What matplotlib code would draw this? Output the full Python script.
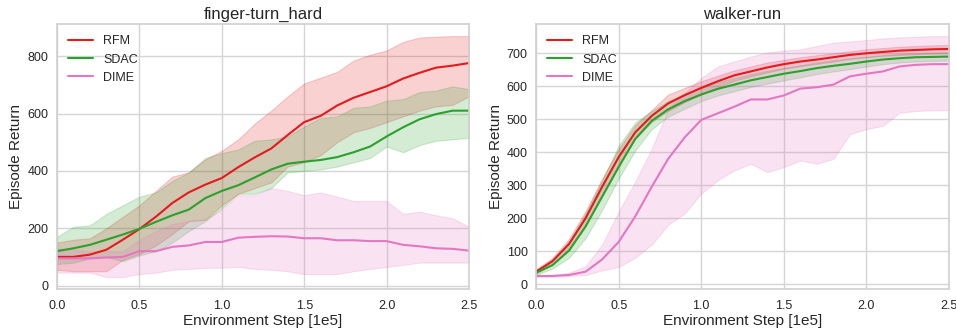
import numpy as np
import matplotlib
matplotlib.use("Agg")
import matplotlib.pyplot as plt
import seaborn as sns

steps = np.round(np.arange(0, 2.51, 0.1), 1)

# finger-turn_hard
ft_rfm_mean = [100, 100, 108, 125, 160, 197, 240, 288, 325, 352, 375, 413, 447, 478, 525, 570, 592, 628, 655, 675, 695, 722, 742, 760, 767, 776]
ft_rfm_hi = [150, 160, 165, 200, 240, 280, 330, 380, 395, 440, 470, 510, 565, 610, 660, 705, 725, 745, 785, 805, 820, 850, 865, 868, 870, 870]
ft_rfm_lo = [55, 50, 50, 50, 90, 110, 140, 180, 225, 230, 280, 320, 340, 360, 415, 430, 455, 500, 535, 550, 570, 590, 610, 625, 630, 660]
ft_sdac_mean = [120, 130, 142, 160, 178, 198, 222, 245, 265, 305, 330, 350, 377, 405, 425, 432, 438, 448, 465, 485, 520, 552, 580, 598, 610, 610]
ft_sdac_hi = [170, 205, 210, 250, 280, 310, 325, 365, 395, 445, 462, 475, 505, 510, 520, 555, 585, 590, 620, 625, 645, 650, 675, 680, 695, 685]
ft_sdac_lo = [75, 80, 95, 100, 85, 105, 120, 150, 190, 225, 270, 320, 320, 340, 395, 400, 405, 415, 430, 445, 485, 465, 490, 505, 510, 515]
ft_dime_mean = [95, 95, 95, 98, 100, 120, 120, 135, 140, 152, 152, 167, 170, 172, 171, 165, 165, 158, 158, 155, 155, 142, 137, 130, 128, 122]
ft_dime_hi = [130, 125, 120, 120, 120, 160, 190, 215, 225, 230, 265, 315, 315, 340, 330, 315, 325, 310, 295, 295, 295, 250, 258, 245, 235, 205]
ft_dime_lo = [45, 45, 45, 30, 30, 40, 45, 55, 58, 62, 62, 65, 58, 55, 50, 40, 40, 40, 50, 58, 65, 72, 80, 80, 80, 80]

# walker-run
wr_rfm_mean = [38, 70, 122, 200, 295, 385, 460, 510, 548, 573, 595, 615, 633, 645, 657, 667, 675, 681, 688, 695, 700, 704, 708, 710, 712, 713]
wr_rfm_hi = [45, 80, 138, 222, 320, 410, 482, 528, 575, 595, 615, 632, 648, 660, 672, 680, 688, 694, 700, 706, 712, 716, 720, 722, 724, 725]
wr_rfm_lo = [32, 60, 108, 180, 272, 362, 440, 492, 525, 552, 575, 597, 617, 630, 642, 653, 661, 668, 675, 683, 688, 692, 695, 697, 699, 700]
wr_sdac_mean = [35, 58, 102, 175, 265, 355, 440, 495, 530, 555, 575, 592, 605, 618, 628, 638, 646, 655, 662, 668, 675, 681, 685, 688, 689, 690]
wr_sdac_hi = [42, 75, 130, 215, 315, 420, 490, 525, 555, 578, 595, 612, 625, 637, 647, 656, 664, 672, 679, 685, 690, 695, 698, 700, 702, 703]
wr_sdac_lo = [28, 48, 80, 140, 225, 320, 405, 470, 508, 532, 555, 572, 585, 598, 608, 618, 627, 637, 645, 652, 660, 667, 672, 675, 677, 678]
wr_dime_mean = [25, 25, 28, 38, 75, 128, 205, 295, 380, 445, 498, 518, 538, 560, 560, 572, 593, 597, 605, 630, 638, 645, 660, 665, 667, 667]
wr_dime_hi = [28, 28, 35, 55, 120, 220, 310, 410, 530, 580, 625, 660, 675, 690, 702, 708, 712, 722, 732, 736, 740, 745, 748, 750, 752, 752]
wr_dime_lo = [22, 22, 25, 28, 42, 52, 80, 120, 180, 215, 275, 315, 345, 365, 340, 355, 375, 365, 380, 455, 470, 480, 520, 525, 527, 528]

titles = ["finger-turn_hard", "walker-run"]
labels = ["RFM", "SDAC", "DIME"]
colors = ["#e41a1c", "#2ca02c", "#e377c2"]
x_ticks = [0.0, 0.5, 1.0, 1.5, 2.0, 2.5]
y_ticks = [[0, 200, 400, 600, 800], [0, 100, 200, 300, 400, 500, 600, 700]]

panels = [
    [(ft_rfm_mean, ft_rfm_lo, ft_rfm_hi), (ft_sdac_mean, ft_sdac_lo, ft_sdac_hi), (ft_dime_mean, ft_dime_lo, ft_dime_hi)],
    [(wr_rfm_mean, wr_rfm_lo, wr_rfm_hi), (wr_sdac_mean, wr_sdac_lo, wr_sdac_hi), (wr_dime_mean, wr_dime_lo, wr_dime_hi)],
]

sns.set_theme(style="whitegrid")
plt.rcParams['font.family'] = ['Liberation Sans', 'DejaVu Sans']

fig = plt.figure(figsize=(9.56, 3.32), dpi=100)
axes = [fig.add_axes([0.0596, 0.1295, 0.431, 0.798]),
        fig.add_axes([0.5607, 0.1295, 0.432, 0.798])]

for ax, title, series, yt in zip(axes, titles, panels, y_ticks):
    for (m, lo, hi), lab, c in zip(series, labels, colors):
        ax.fill_between(steps, lo, hi, color=c, alpha=0.2, linewidth=0.8)
        ax.plot(steps, m, color=c, linewidth=1.5, label=lab)
    ax.set_xlim(0, 2.5)
    ax.set_xticks(x_ticks)
    ax.set_yticks(yt)
    ax.margins(y=0.05)
    ax.set_title(title, fontsize=12, pad=4)
    ax.tick_params(axis='x', labelsize=9, length=0, pad=8)
    ax.tick_params(axis='y', labelsize=9, length=0, pad=6)
    ax.set_xlabel("Environment Step [1e5]", fontsize=11, labelpad=1)
    ax.set_ylabel("Episode Return", fontsize=11, labelpad=3)
    for s in ax.spines.values():
        s.set_color("#d0d0d0")
        s.set_linewidth(1.2)
    ax.grid(True, color="#d5d5d5", linewidth=1.0)
    ax.legend(loc="upper left", frameon=False, fontsize=9)

fig.savefig("out.png", dpi=100)
